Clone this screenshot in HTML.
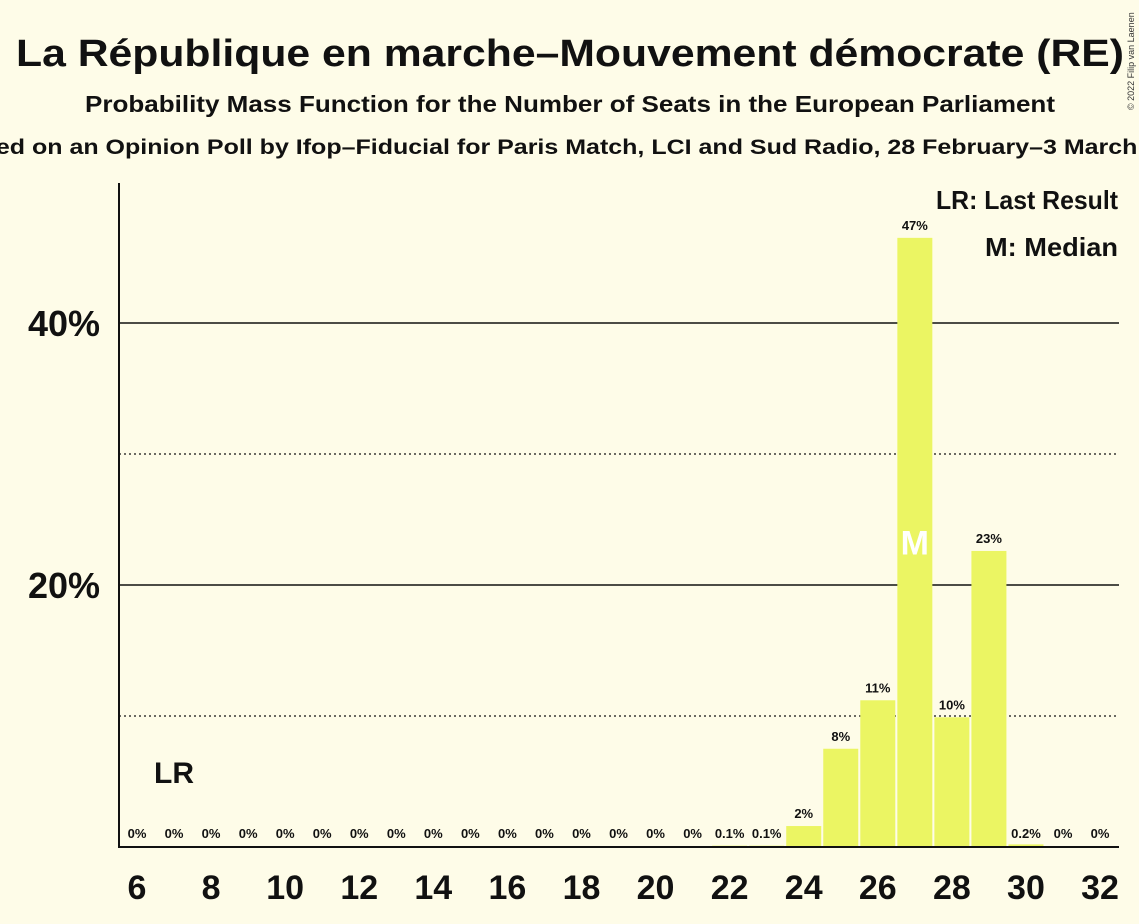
<!DOCTYPE html>
<html><head><meta charset="utf-8"><style>
body{margin:0;background:#fefce8;}
svg{display:block;font-family:"Liberation Sans",sans-serif;}
</style></head><body>
<svg id="c" width="1139" height="924">
<rect width="1139" height="924" fill="#fefce8"/>
<text x="570" y="66" text-anchor="middle" font-size="38" font-weight="bold" fill="#111" textLength="1108" lengthAdjust="spacingAndGlyphs">La République en marche–Mouvement démocrate (RE)</text>
<text x="570" y="112" text-anchor="middle" font-size="23" font-weight="bold" fill="#111" textLength="970" lengthAdjust="spacingAndGlyphs">Probability Mass Function for the Number of Seats in the European Parliament</text>
<text x="575" y="154" text-anchor="middle" font-size="21" font-weight="bold" fill="#111" textLength="1250" lengthAdjust="spacingAndGlyphs">Based on an Opinion Poll by Ifop–Fiducial for Paris Match, LCI and Sud Radio, 28 February–3 March 2022</text>
<text x="1134" y="110" font-size="9" fill="#333" transform="rotate(-90 1134 110)">© 2022 Filip van Laenen</text>
<g id="grid"></g>
<g id="bars"></g>
<line x1="119" y1="183" x2="119" y2="848" stroke="#111" stroke-width="2"/>
<line x1="118" y1="847" x2="1119" y2="847" stroke="#111" stroke-width="2"/>
<g id="labels"></g>
<text x="1118" y="209" text-anchor="end" font-size="26" font-weight="bold" fill="#111" textLength="182" lengthAdjust="spacingAndGlyphs">LR: Last Result</text>
<text x="1118" y="256" text-anchor="end" font-size="26" font-weight="bold" fill="#111" textLength="133" lengthAdjust="spacingAndGlyphs">M: Median</text>
</svg>
<script>
const seats=[6,7,8,9,10,11,12,13,14,15,16,17,18,19,20,21,22,23,24,25,26,27,28,29,30,31,32];
const probs=[0,0,0,0,0,0,0,0,0,0,0,0,0,0,0,0,0.1,0.1,1.6,7.5,11.2,46.5,9.9,22.6,0.2,0,0];
const printed=["0%","0%","0%","0%","0%","0%","0%","0%","0%","0%","0%","0%","0%","0%","0%","0%","0.1%","0.1%","2%","8%","11%","47%","10%","23%","0.2%","0%","0%"];
const xTicks=[6,8,10,12,14,16,18,20,22,24,26,28,30,32];
const yTicks=[20,40];
const yDotted=[10,30];
const lastResult=7, median=27;
const NS="http://www.w3.org/2000/svg";
const X=s=>137+(s-6)*37.04;
const Y=v=>847-v*13.1;
function mk(t,a,p){const e=document.createElementNS(NS,t);for(const k in a)e.setAttribute(k,a[k]);p.appendChild(e);return e;}
const g=document.getElementById('grid'),b=document.getElementById('bars'),l=document.getElementById('labels');
yTicks.forEach(v=>{
 const ln=mk('line',{x1:119,x2:1119,y1:Y(v),y2:Y(v),stroke:'#111','stroke-width':1.5},g);
 
 
 const t=mk('text',{x:100,y:Y(v)+13,'text-anchor':'end','font-size':36,'font-weight':'bold',fill:'#111'},l);
 t.textContent=v+'%';
 
 
});
yDotted.forEach(v=>{
 const ln=mk('line',{x1:119,x2:1119,y1:Y(v),y2:Y(v),stroke:'#111','stroke-width':1.2,'stroke-dasharray':'2,3'},g);
 
 
});
seats.forEach((s,i)=>{
 const v=probs[i];
 if(v>0){
  const r=mk('rect',{x:X(s)-17.5,y:Y(v),width:35,height:847-Y(v),fill:'#ebf563'},b);
  
  
 }
 const big=v>=1;
 const t=mk('text',{x:X(s),y:big?Y(v)-8:838,'text-anchor':'middle','font-size':13,'font-weight':'bold',fill:'#111'},l);
 t.textContent=printed[i];
 
 
 if(s===median){
  const m=mk('text',{x:X(s),y:Y(v/2)+12,'text-anchor':'middle','font-size':34,'font-weight':'bold',fill:'#fff'},l);
  m.textContent='M';
  
  
 }
 if(s===lastResult){
  const m=mk('text',{x:X(s),y:783,'text-anchor':'middle','font-size':30,'font-weight':'bold',fill:'#111'},l);
  m.textContent='LR';
  
  
 }
});
xTicks.forEach(s=>{
 const t=mk('text',{x:X(s),y:899,'text-anchor':'middle','font-size':34,'font-weight':'bold',fill:'#111'},l);
 t.textContent=s;
 
 
});
</script>
</body></html>
